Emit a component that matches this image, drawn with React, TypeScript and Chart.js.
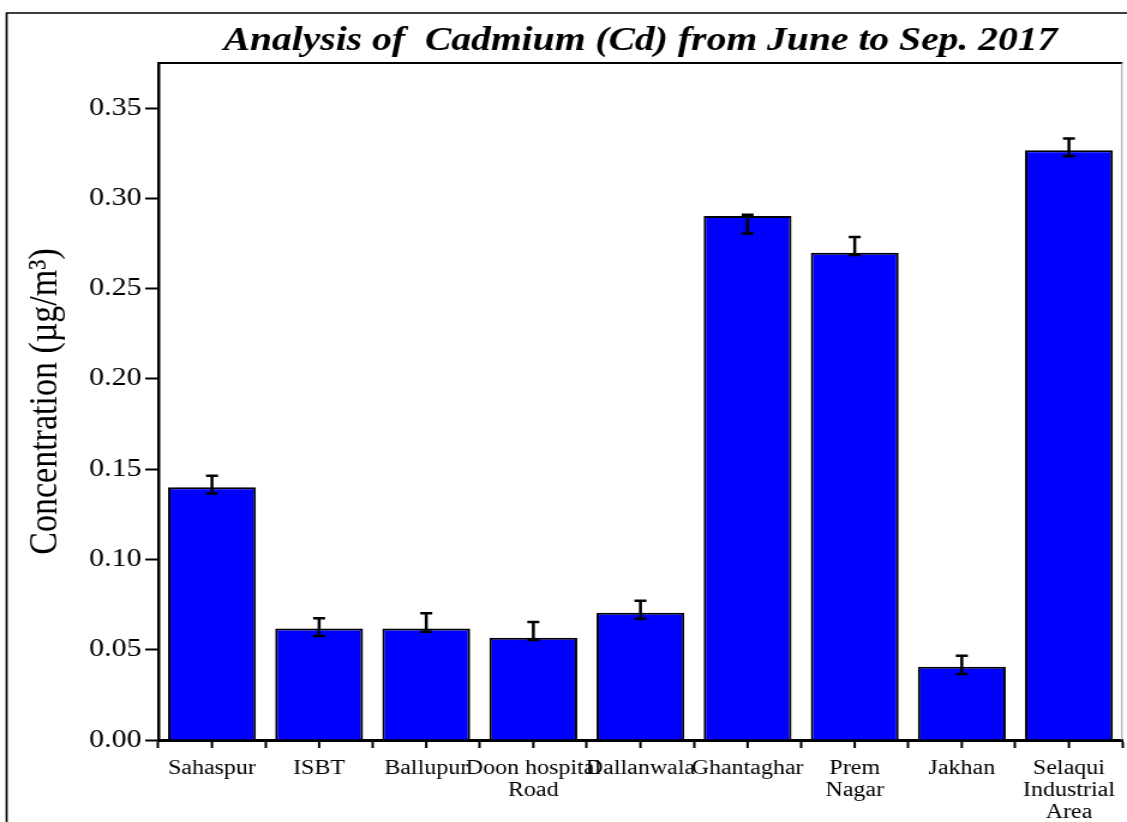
import React, { useEffect, useRef } from 'react';
import { Chart, registerables } from 'chart.js';

Chart.register(...registerables);

// ---- data ----
const categories: (string | string[])[] = [
  'Sahaspur',
  'ISBT',
  'Ballupur',
  ['Doon hospital', 'Road'],
  'Dallanwala',
  'Ghantaghar',
  ['Prem', 'Nagar'],
  'Jakhan',
  ['Selaqui', 'Industrial', 'Area'],
];
const values = [0.140, 0.0618, 0.0618, 0.0567, 0.0705, 0.2902, 0.2699, 0.0406, 0.3267];
const errorLow = [0.1366, 0.0576, 0.0600, 0.0554, 0.0672, 0.2806, 0.2686, 0.0366, 0.3234];
const errorHigh = [0.1464, 0.0674, 0.0702, 0.0653, 0.0772, 0.2910, 0.2786, 0.0467, 0.3332];
const yTicks = [0, 0.05, 0.1, 0.15, 0.2, 0.25, 0.3, 0.35];
const yMax = 0.375;
const chartTitle = 'Analysis of  Cadmium (Cd) from June to Sep. 2017';
const yAxisTitle = 'Concentration (µg/m³)';

// ---- layout (canvas is drawn narrower and stretched horizontally by CSS) ----
const CSS_W = 1127;
const CSS_H = 822;
const STRETCH = 1.2;
const W = Math.round(CSS_W / STRETCH);
const H = CSS_H;
const SERIF = '"Liberation Serif", "Times New Roman", serif';

const decorPlugin = {
  id: 'decor',
  beforeDraw(chart: any) {
    const { ctx } = chart;
    ctx.save();
    ctx.fillStyle = '#ffffff';
    ctx.fillRect(0, 0, chart.width, chart.height);
    // outer frame (left + top visible)
    ctx.strokeStyle = '#000';
    ctx.lineWidth = 1.7;
    ctx.beginPath();
    ctx.moveTo(5.5, H + 5);
    ctx.lineTo(5.5, 13);
    ctx.lineTo(W + 5, 13);
    ctx.stroke();
    ctx.restore();
  },
  afterDraw(chart: any) {
    const { ctx, chartArea } = chart;
    const xs = chart.scales.x;
    ctx.save();
    // plot box top + right
    ctx.strokeStyle = '#000';
    ctx.lineWidth = 2;
    ctx.beginPath();
    ctx.moveTo(chartArea.left, chartArea.top);
    ctx.lineTo(chartArea.right, chartArea.top);
    ctx.stroke();
    ctx.strokeStyle = '#9a9a9a';
    ctx.lineWidth = 1;
    ctx.beginPath();
    ctx.moveTo(chartArea.right - 0.5, chartArea.top);
    ctx.lineTo(chartArea.right - 0.5, chartArea.bottom);
    ctx.stroke();
    // center tick marks on x axis
    ctx.strokeStyle = '#000';
    ctx.lineWidth = 2;
    ctx.beginPath();
    for (let i = 0; i < categories.length; i++) {
      const x = xs.getPixelForValue(i);
      ctx.moveTo(x, chartArea.bottom);
      ctx.lineTo(x, chartArea.bottom + 8);
    }
    ctx.stroke();
    // title
    ctx.fillStyle = '#000';
    ctx.font = `italic bold 33px ${SERIF}`;
    ctx.textAlign = 'center';
    ctx.textBaseline = 'alphabetic';
    ctx.fillText(chartTitle, (chartArea.left + chartArea.right) / 2, 50);
    ctx.restore();
  },
  afterDatasetsDraw(chart: any) {
    const { ctx } = chart;
    const ys = chart.scales.y;
    const meta = chart.getDatasetMeta(0);
    ctx.save();
    ctx.strokeStyle = '#000';
    ctx.lineWidth = 2.5;
    const cap = 5;
    meta.data.forEach((bar: any, i: number) => {
      const x = bar.x;
      const yH = ys.getPixelForValue(errorHigh[i]);
      const yL = ys.getPixelForValue(errorLow[i]);
      ctx.beginPath();
      ctx.moveTo(x, yH);
      ctx.lineTo(x, yL);
      ctx.moveTo(x - cap, yH);
      ctx.lineTo(x + cap, yH);
      ctx.moveTo(x - cap, yL);
      ctx.lineTo(x + cap, yL);
      ctx.stroke();
    });
    ctx.restore();
  },
};

export default function App() {
  const canvasRef = useRef<HTMLCanvasElement | null>(null);

  useEffect(() => {
    const canvas = canvasRef.current;
    if (!canvas) return;
    const chart = new Chart(canvas, {
      type: 'bar',
      data: {
        labels: categories,
        datasets: [
          {
            data: values,
            backgroundColor: '#0000ff',
            borderColor: '#000000',
            borderWidth: 2,
            categoryPercentage: 1,
            barPercentage: 0.82,
          },
        ],
      },
      options: {
        animation: false,
        responsive: false,
        devicePixelRatio: 1,
        layout: { padding: { top: 63, right: 1, bottom: 0, left: 0 } },
        plugins: {
          legend: { display: false },
          title: { display: false },
          tooltip: { enabled: false },
        },
        scales: {
          x: {
            offset: true,
            grid: {
              display: true,
              offset: true,
              drawOnChartArea: false,
              drawTicks: true,
              tickLength: 8,
              tickWidth: 2,
              tickColor: '#000',
              color: '#000',
            },
            border: { display: true, color: '#000', width: 3 },
            ticks: {
              color: '#000',
              padding: 10,
              maxRotation: 0,
              minRotation: 0,
              autoSkip: false,
              font: { family: SERIF, size: 20, lineHeight: 1.1 },
            },
            afterFit: (scale: any) => {
              scale.height = H - 740;
            },
          },
          y: {
            min: 0,
            max: yMax,
            afterBuildTicks: (scale: any) => {
              scale.ticks = yTicks.map((v) => ({ value: v }));
            },
            grid: {
              display: true,
              drawOnChartArea: false,
              drawTicks: true,
              tickLength: 11,
              tickWidth: 2,
              tickColor: '#000',
              color: '#000',
            },
            border: { display: true, color: '#000', width: 2.5 },
            ticks: {
              color: '#000',
              padding: 3,
              font: { family: SERIF, size: 25 },
              callback: (v: any) => Number(v).toFixed(2),
            },
            title: {
              display: true,
              text: yAxisTitle,
              color: '#000',
              font: { family: SERIF, size: 34, lineHeight: 1.2 },
              padding: { top: 18, bottom: 0 },
            },
            afterFit: (scale: any) => {
              scale.width = 132;
            },
          },
        },
      },
      plugins: [decorPlugin],
    });
    return () => chart.destroy();
  }, []);

  return (
    <div style={{ position: 'fixed', left: 0, top: 0, width: CSS_W, height: CSS_H, background: '#fff' }}>
      <canvas
        ref={canvasRef}
        width={W}
        height={H}
        style={{ width: CSS_W + 'px', height: CSS_H + 'px', display: 'block' }}
      />
    </div>
  );
}
